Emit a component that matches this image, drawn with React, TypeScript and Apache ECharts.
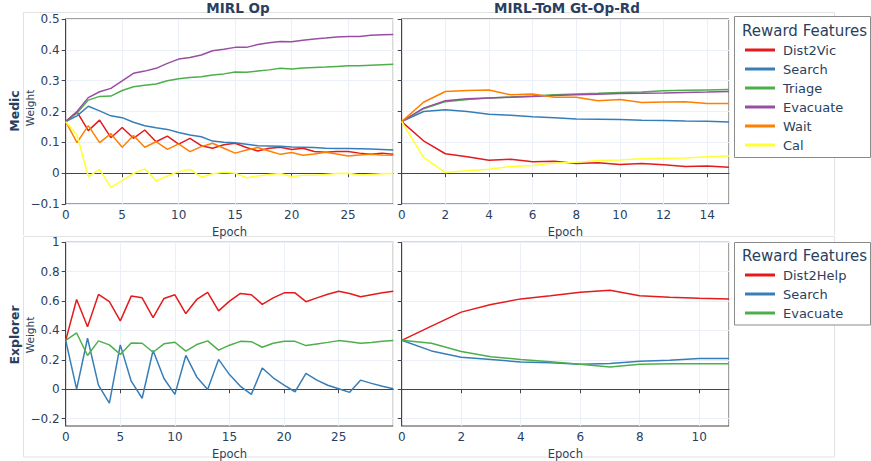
import React, { useEffect, useRef } from "react";
import * as echarts from "echarts";

// ---- Data ----
const featuresMedic = ["Dist2Vic", "Search", "Triage", "Evacuate", "Wait", "Cal"];
const featuresExplorer = ["Dist2Help", "Search", "Evacuate"];

const medicOpDist2Vic = [0.167, 0.199, 0.138, 0.172, 0.115, 0.148, 0.113, 0.14, 0.102, 0.12, 0.094, 0.113, 0.089, 0.081, 0.092, 0.097, 0.083, 0.072, 0.081, 0.084, 0.077, 0.081, 0.07, 0.068, 0.07, 0.07, 0.065, 0.061, 0.065, 0.061];
const medicOpSearch = [0.167, 0.186, 0.217, 0.202, 0.186, 0.18, 0.165, 0.154, 0.147, 0.142, 0.132, 0.124, 0.118, 0.104, 0.1, 0.099, 0.094, 0.089, 0.088, 0.087, 0.085, 0.084, 0.083, 0.081, 0.08, 0.08, 0.079, 0.078, 0.077, 0.075];
const medicOpTriage = [0.167, 0.195, 0.237, 0.249, 0.25, 0.268, 0.28, 0.285, 0.289, 0.3, 0.306, 0.31, 0.313, 0.318, 0.322, 0.328, 0.327, 0.331, 0.335, 0.34, 0.338, 0.341, 0.343, 0.344, 0.346, 0.348, 0.348, 0.35, 0.352, 0.353];
const medicOpEvacuate = [0.167, 0.2, 0.245, 0.264, 0.275, 0.299, 0.324, 0.331, 0.34, 0.356, 0.37, 0.375, 0.383, 0.397, 0.402, 0.408, 0.408, 0.417, 0.423, 0.427, 0.426, 0.431, 0.435, 0.438, 0.442, 0.443, 0.443, 0.447, 0.449, 0.45];
const medicOpWait = [0.167, 0.099, 0.154, 0.099, 0.128, 0.084, 0.122, 0.084, 0.102, 0.077, 0.095, 0.07, 0.086, 0.097, 0.081, 0.065, 0.075, 0.083, 0.072, 0.061, 0.067, 0.058, 0.062, 0.068, 0.062, 0.056, 0.059, 0.061, 0.059, 0.058];
const medicOpCal = [0.167, 0.124, -0.011, 0.012, -0.046, -0.024, -0.001, 0.014, -0.025, -0.009, 0.005, 0.012, -0.013, -0.002, 0.003, 0.0, -0.015, -0.009, -0.004, -0.001, -0.011, -0.007, -0.007, -0.004, -0.001, 0.0, -0.006, -0.004, -0.002, -0.001];

const medicTomDist2Vic = [0.167, 0.105, 0.063, 0.053, 0.042, 0.045, 0.037, 0.039, 0.031, 0.034, 0.028, 0.031, 0.027, 0.022, 0.023, 0.019];
const medicTomSearch = [0.167, 0.2, 0.206, 0.2, 0.191, 0.188, 0.183, 0.18, 0.176, 0.175, 0.174, 0.172, 0.171, 0.169, 0.168, 0.166];
const medicTomTriage = [0.167, 0.209, 0.232, 0.239, 0.244, 0.247, 0.25, 0.254, 0.257, 0.259, 0.262, 0.263, 0.267, 0.269, 0.27, 0.271];
const medicTomEvacuate = [0.167, 0.211, 0.235, 0.241, 0.244, 0.246, 0.249, 0.252, 0.254, 0.256, 0.258, 0.259, 0.26, 0.262, 0.263, 0.265];
const medicTomWait = [0.167, 0.23, 0.265, 0.268, 0.27, 0.254, 0.257, 0.246, 0.246, 0.235, 0.239, 0.229, 0.231, 0.232, 0.226, 0.226];
const medicTomCal = [0.167, 0.051, 0.002, 0.008, 0.013, 0.022, 0.025, 0.033, 0.035, 0.041, 0.043, 0.047, 0.048, 0.049, 0.053, 0.056];

const explorerOpDist2Help = [0.333, 0.611, 0.425, 0.645, 0.596, 0.465, 0.634, 0.622, 0.488, 0.618, 0.643, 0.515, 0.611, 0.66, 0.533, 0.6, 0.652, 0.643, 0.578, 0.622, 0.656, 0.656, 0.596, 0.622, 0.647, 0.667, 0.652, 0.629, 0.643, 0.656, 0.667];
const explorerOpSearch = [0.333, 0.001, 0.347, 0.028, -0.095, 0.302, 0.055, -0.061, 0.264, 0.073, -0.035, 0.23, 0.084, -0.001, 0.203, 0.1, 0.02, -0.035, 0.145, 0.078, 0.028, -0.017, 0.108, 0.062, 0.027, 0.004, -0.021, 0.062, 0.04, 0.021, 0.003];
const explorerOpEvacuate = [0.333, 0.383, 0.23, 0.329, 0.302, 0.237, 0.315, 0.313, 0.252, 0.309, 0.32, 0.259, 0.304, 0.329, 0.266, 0.3, 0.326, 0.324, 0.286, 0.313, 0.326, 0.326, 0.297, 0.308, 0.319, 0.331, 0.324, 0.313, 0.319, 0.326, 0.331];

const explorerTomDist2Help = [0.333, 0.43, 0.525, 0.577, 0.615, 0.637, 0.66, 0.673, 0.637, 0.626, 0.619, 0.615];
const explorerTomSearch = [0.333, 0.261, 0.218, 0.203, 0.185, 0.18, 0.171, 0.176, 0.191, 0.198, 0.209, 0.209];
const explorerTomEvacuate = [0.333, 0.313, 0.257, 0.221, 0.203, 0.187, 0.171, 0.151, 0.171, 0.173, 0.173, 0.173];

const explorerYTicks = [-0.2, 0, 0.2, 0.4, 0.6, 0.8, 1];

// ---- Styling ----
const FONT = "DejaVu Sans";
const TXT = "#2a3f5f";
const AXIS = "#444";
const GRIDC = "#ebf0f8";
const C = {
  red: "#e41a1c",
  blue: "#377eb8",
  green: "#4daf4a",
  purple: "#984ea3",
  orange: "#ff7f00",
  yellow: "#ffff33",
};

const fmt = (v: number) => String(Math.round(v * 100) / 100).replace("-", "\u2212");

function xAxisCfg(gridIndex: number, max: number, interval: number) {
  return {
    type: "value",
    gridIndex,
    min: 0,
    max,
    interval,
    axisLine: { show: true, lineStyle: { color: AXIS, width: 1 } },
    axisTick: { show: true, length: 4, lineStyle: { color: AXIS } },
    axisLabel: { color: TXT, fontSize: 12, fontFamily: FONT, margin: 5, showMaxLabel: false },
    splitLine: { show: true, lineStyle: { color: GRIDC, width: 1 } },
    name: "Epoch",
    nameLocation: "middle",
    nameGap: 22,
    nameTextStyle: { color: TXT, fontSize: 11.5, fontFamily: FONT },
  };
}

function yAxisMedic(gridIndex: number, labels: boolean) {
  return {
    type: "value",
    gridIndex,
    min: -0.1,
    max: 0.5,
    interval: 0.1,
    axisLine: { show: true, lineStyle: { color: AXIS, width: 1 } },
    axisTick: { show: true, length: 4, lineStyle: { color: AXIS } },
    axisLabel: { show: labels, color: TXT, fontSize: 12, fontFamily: FONT, margin: 6, formatter: fmt },
    splitLine: { show: true, lineStyle: { color: GRIDC, width: 1 } },
  };
}

function yAxisExplorer(gridIndex: number, labels: boolean) {
  return {
    type: "value",
    gridIndex,
    min: -0.25,
    max: 1,
    axisLine: { show: true, lineStyle: { color: AXIS, width: 1 } },
    axisTick: { show: true, length: 4, lineStyle: { color: AXIS }, customValues: explorerYTicks },
    axisLabel: { show: labels, color: TXT, fontSize: 12, fontFamily: FONT, margin: 6, formatter: fmt, customValues: explorerYTicks },
    splitLine: { show: true, lineStyle: { color: GRIDC, width: 1 } },
  };
}

function line(name: string, values: number[], color: string, idx: number) {
  return {
    type: "line",
    name,
    xAxisIndex: idx,
    yAxisIndex: idx,
    data: values.map((v, i) => [i, v]),
    showSymbol: false,
    symbol: "none",
    lineStyle: { color, width: 1.5 },
    itemStyle: { color },
    silent: true,
  };
}

function vText(text: string, x: number, y: number, font: string) {
  return {
    type: "text",
    x,
    y,
    rotation: Math.PI / 2,
    style: { text, fill: TXT, font, textAlign: "center", textVerticalAlign: "middle" },
  };
}

export default function App() {
  const ref = useRef<HTMLDivElement>(null);
  useEffect(() => {
    if (!ref.current) return;
    const chart = echarts.init(ref.current, undefined, { renderer: "svg" });
    const gridBase = { show: true, borderColor: AXIS, borderWidth: 1, backgroundColor: "#fff", containLabel: false };
    const option: any = {
      animation: false,
      backgroundColor: "#fff",
      textStyle: { fontFamily: FONT },
      grid: [
        { ...gridBase, left: 65.7, top: 19, width: 327.6, height: 185 },
        { ...gridBase, left: 401.7, top: 19, width: 327.3, height: 185 },
        { ...gridBase, left: 65.7, top: 242.3, width: 327.6, height: 186 },
        { ...gridBase, left: 401.7, top: 242.3, width: 327.3, height: 186 },
      ],
      xAxis: [xAxisCfg(0, 29, 5), xAxisCfg(1, 15, 2), xAxisCfg(2, 30, 5), xAxisCfg(3, 11, 2)],
      yAxis: [yAxisMedic(0, true), yAxisMedic(1, false), yAxisExplorer(2, true), yAxisExplorer(3, false)],
      legend: [
        {
          orient: "vertical",
          left: 745,
          top: 42,
          padding: 0,
          itemWidth: 30,
          itemHeight: 3,
          itemGap: 3,
          icon: "rect",
          selectedMode: false,
          textStyle: { color: TXT, fontSize: 13, fontFamily: FONT, lineHeight: 16, padding: [0, 0, 0, 3] },
          data: [
            { name: featuresMedic[0], itemStyle: { color: C.red } },
            { name: featuresMedic[1], itemStyle: { color: C.blue } },
            { name: featuresMedic[2], itemStyle: { color: C.green } },
            { name: featuresMedic[3], itemStyle: { color: C.purple } },
            { name: featuresMedic[4], itemStyle: { color: C.orange } },
            { name: featuresMedic[5], itemStyle: { color: C.yellow } },
          ],
        },
        {
          orient: "vertical",
          left: 745,
          top: 267,
          padding: 0,
          itemWidth: 30,
          itemHeight: 3,
          itemGap: 3,
          icon: "rect",
          selectedMode: false,
          textStyle: { color: TXT, fontSize: 13, fontFamily: FONT, lineHeight: 16, padding: [0, 0, 0, 3] },
          data: [
            { name: featuresExplorer[0], itemStyle: { color: C.red } },
            { name: featuresExplorer[1], itemStyle: { color: C.blue } },
            { name: featuresExplorer[2], itemStyle: { color: C.green } },
          ],
        },
      ],
      series: [
        line(featuresMedic[0], medicOpDist2Vic, C.red, 0),
        line(featuresMedic[1], medicOpSearch, C.blue, 0),
        line(featuresMedic[2], medicOpTriage, C.green, 0),
        line(featuresMedic[3], medicOpEvacuate, C.purple, 0),
        line(featuresMedic[4], medicOpWait, C.orange, 0),
        line(featuresMedic[5], medicOpCal, C.yellow, 0),
        line(featuresMedic[0], medicTomDist2Vic, C.red, 1),
        line(featuresMedic[1], medicTomSearch, C.blue, 1),
        line(featuresMedic[2], medicTomTriage, C.green, 1),
        line(featuresMedic[3], medicTomEvacuate, C.purple, 1),
        line(featuresMedic[4], medicTomWait, C.orange, 1),
        line(featuresMedic[5], medicTomCal, C.yellow, 1),
        line(featuresExplorer[0], explorerOpDist2Help, C.red, 2),
        line(featuresExplorer[1], explorerOpSearch, C.blue, 2),
        line(featuresExplorer[2], explorerOpEvacuate, C.green, 2),
        line(featuresExplorer[0], explorerTomDist2Help, C.red, 3),
        line(featuresExplorer[1], explorerTomSearch, C.blue, 3),
        line(featuresExplorer[2], explorerTomEvacuate, C.green, 3),
      ],
      graphic: [
        // faint panel frames
        { type: "polyline", z: -10, shape: { points: [[23.5, 235], [23.5, 12.5], [834.5, 12.5], [834.5, 235]] }, style: { stroke: "#e2e2e2", fill: null, lineWidth: 1 } },
        { type: "rect", z: -10, shape: { x: 23.5, y: 236.5, width: 811, height: 220.5 }, style: { stroke: "#e2e2e2", fill: null, lineWidth: 1 } },
        // legend boxes
        { type: "rect", shape: { x: 734.5, y: 16.5, width: 136, height: 141 }, style: { stroke: "#8a8a8a", fill: "#fff", lineWidth: 1 }, z: 1 },
        { type: "rect", shape: { x: 734.5, y: 242.5, width: 136, height: 82.5 }, style: { stroke: "#8a8a8a", fill: "#fff", lineWidth: 1 }, z: 1 },
        { type: "text", x: 742, y: 31, z: 2, style: { text: "Reward Features", fill: TXT, font: `15px '${FONT}'`, textVerticalAlign: "middle" } },
        { type: "text", x: 742, y: 256, z: 2, style: { text: "Reward Features", fill: TXT, font: `15px '${FONT}'`, textVerticalAlign: "middle" } },
        // titles
        { type: "text", x: 238, y: 8, style: { text: "MIRL Op", fill: TXT, font: `bold 13.5px '${FONT}'`, textAlign: "center", textVerticalAlign: "middle" } },
        { type: "text", x: 567, y: 8, style: { text: "MIRL-ToM Gt-Op-Rd", fill: TXT, font: `bold 13.5px '${FONT}'`, textAlign: "center", textVerticalAlign: "middle" } },
        // row labels and y-axis titles
        vText("Medic", 14, 111, `bold 12.5px '${FONT}'`),
        vText("Weight", 30, 108, `10.5px '${FONT}'`),
        vText("Explorer", 14, 335, `bold 12.5px '${FONT}'`),
        vText("Weight", 30, 335, `10.5px '${FONT}'`),
      ],
    };
    chart.setOption(option);
    return () => chart.dispose();
  }, []);
  return <div ref={ref} style={{ position: "fixed", left: 0, top: 0, width: 871, height: 461 }} />;
}
